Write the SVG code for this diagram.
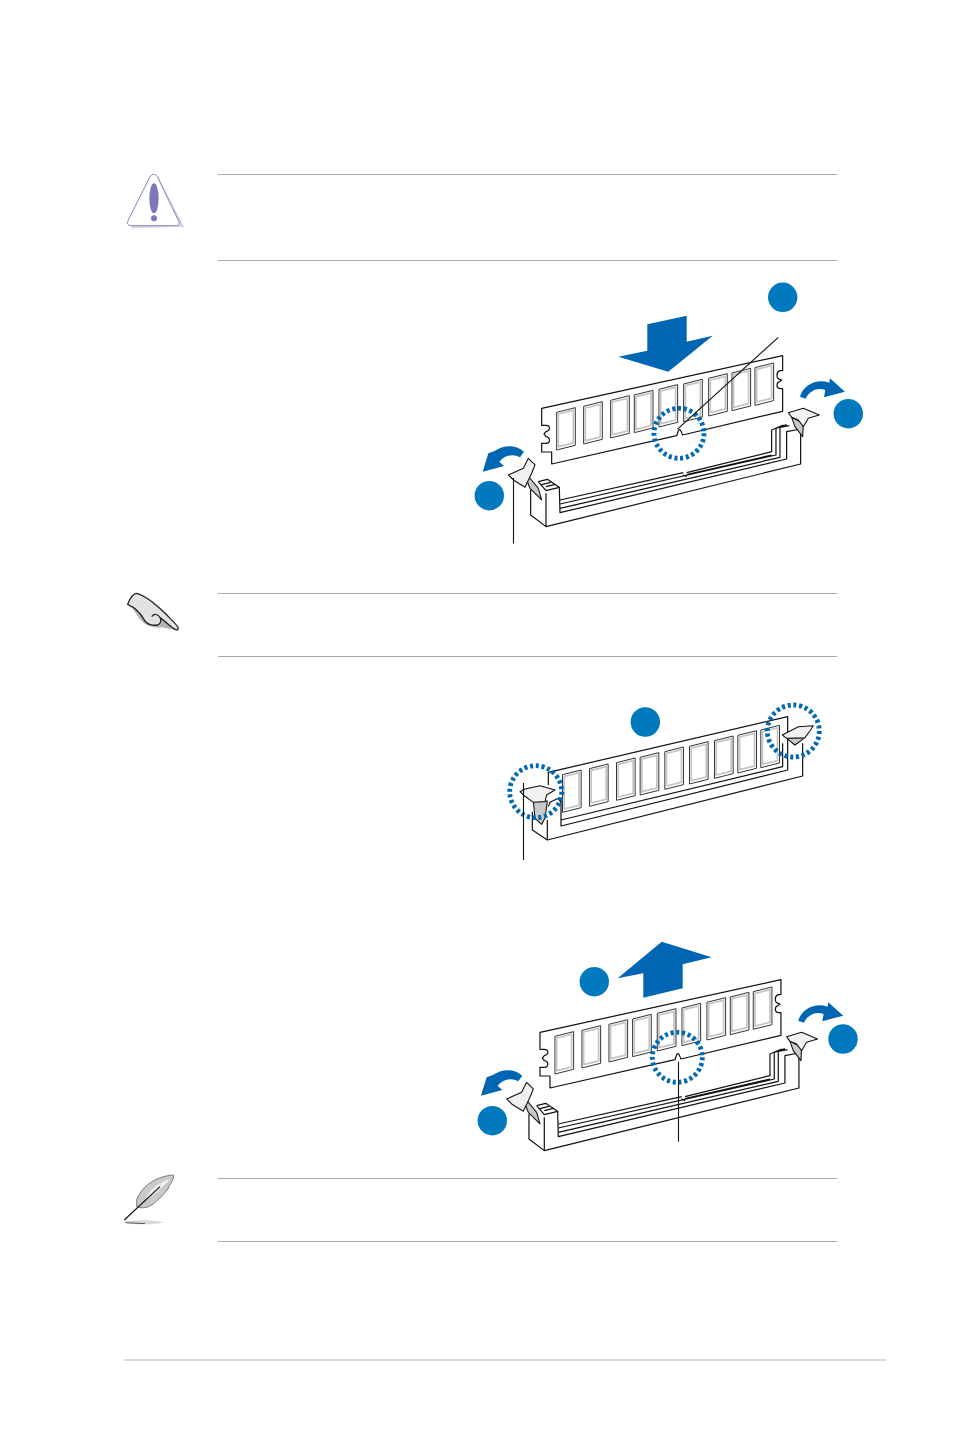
<svg xmlns="http://www.w3.org/2000/svg" xmlns:xlink="http://www.w3.org/1999/xlink" width="954" height="1437" viewBox="0 0 954 1437">
<style>
.rule{stroke:#a9a9a9;stroke-width:1;fill:none}
.foot{stroke:#cfcfcf;stroke-width:1.6;fill:none}
.ln{fill:none;stroke:#111;stroke-width:3.6;stroke-linejoin:round}
.fill{fill:#fff;stroke:none}
.body{fill:#fff;stroke:#111;stroke-width:3.6;stroke-linejoin:round}
.win{fill:#fff;stroke:#333;stroke-width:3}
.wini{fill:none;stroke:#c4c4c4;stroke-width:5}
.lev{fill:#f1f1f1;stroke:#111;stroke-width:3.2;stroke-linejoin:round}
.levd{fill:#c9c9c9;stroke:#111;stroke-width:3.2;stroke-linejoin:round}
.arrow{fill:#0066b3}
.badge{fill:#0079bf}
.dots{fill:none;stroke:#0069b4;stroke-width:4.8;stroke-dasharray:3.1 2.7}
.lead{fill:none;stroke:#111;stroke-width:1.1}
</style>
<defs>
<filter id="soft" x="-10%" y="-10%" width="120%" height="120%"><feGaussianBlur stdDeviation="1.2"/></filter>
<g id="w"><polygon class="win" points="0,14 56,0 56,113 0,127"/><polygon class="wini" points="5,19 50,8 50,106 5,117"/></g>
<g id="windows">
<use href="#w" x="260" y="383"/><use href="#w" x="341" y="365"/><use href="#w" x="422" y="347"/><use href="#w" x="493" y="331"/><use href="#w" x="567" y="314"/><use href="#w" x="641" y="298"/><use href="#w" x="716" y="281"/><use href="#w" x="786" y="265"/><use href="#w" x="855" y="249"/>
</g>
<g id="assembly">
<path class="fill" d="M182,640 L205,605 L232,598 L268,622 L270,660 L905,512 L905,450 L945,435 L992,450 L992,552 L228,740 L182,705 Z"/>
<path class="ln" d="M182,630 L182,705 L228,740 L992,552 L992,447 M228,640 L228,740 M268,622 L270,698 L950,537 L950,455 L992,447"/>
<path class="ln" d="M205,605 L232,598 L268,622 L228,632 L205,605 M215,614 L242,607 M228,620 L255,613"/>
<path class="ln" d="M270,660 L640,578 M650,578 L905,515 L905,450 L940,435 M270,672 L918,525 L918,445 L950,434 M270,685 L930,532 L930,442 L958,437 M640,584 L650,590 M650,584 L905,525"/>
<path class="body" d="M215,385 L938,227 L938,272 L930,272 C918,276 918,296 930,298 L935,300 L930,304 C918,308 918,324 930,326 L938,326 L938,394 L638,465 C634,455 632,448 628,449 C624,450 624,458 620,467 L245,552 L245,516 L215,516 L215,490 L228,490 C242,490 242,472 228,470 L222,462 L228,455 C242,452 242,436 228,436 L215,436 Z"/>
<use href="#windows"/>
<path class="levd" d="M172,585 L205,625 L215,660 L180,625 L170,600 Z"/>
<path class="lev" d="M115,585 L160,565 L175,535 L195,555 L185,580 L165,622 L130,600 Z"/>
<path class="levd" d="M965,412 L1000,430 L998,470 L975,440 Z"/>
<path class="lev" d="M955,398 L1000,385 L1048,405 L1015,415 L1000,440 L985,420 L965,412 Z"/>
<path class="arrow" d="M990,350 C1000,315 1040,295 1078,308 L1080,295 L1125,335 L1062,352 L1066,330 C1045,322 1020,330 1007,356 Z"/>
<path class="arrow" d="M162,515 C135,492 100,495 72,514 L55,520 L38,575 L102,558 L88,545 C105,525 130,520 150,532 Z"/>
</g>
</defs>

<g id="rules">
<line class="rule" x1="218" y1="174.5" x2="837" y2="174.5"/>
<line class="rule" x1="218" y1="260.5" x2="837" y2="260.5"/>
<line class="rule" x1="218" y1="593.5" x2="837" y2="593.5"/>
<line class="rule" x1="218" y1="656.5" x2="837" y2="656.5"/>
<line class="rule" x1="218" y1="1178.5" x2="837" y2="1178.5"/>
<line class="rule" x1="218" y1="1241.5" x2="837" y2="1241.5"/>
<line class="foot" x1="124" y1="1360" x2="886" y2="1360"/>
</g>

<g id="icon-warning" transform="translate(115 165) scale(.3333)">
<path d="M130,35 L207,185 L50,190 L50,178 Z" fill="#d4d2e8"/>
<path d="M105,35 Q116,20 127,35 L192,170 Q194,182 182,182 L48,182 Q32,180 40,165 Z" fill="#fff" stroke="#8a86c2" stroke-width="3"/>
<ellipse cx="117" cy="100" rx="14" ry="45" fill="#7d78b8"/>
<circle cx="117" cy="160" r="9" fill="#7d78b8"/>
</g>

<g id="icon-hand" transform="translate(115 585) scale(.3333)">
<path d="M50,65 C75,105 85,125 130,128 C150,125 175,135 192,138 L150,90 Z" fill="#b5b5b5" filter="url(#soft)"/>
<path d="M38,58 C45,40 55,25 65,25 C90,32 120,55 150,85 C170,105 188,120 190,130 C190,136 182,136 175,130 C160,118 145,105 135,98 C140,105 138,115 128,120 C115,122 95,120 88,105 C80,90 65,70 38,58 Z" fill="#e2e2e2" stroke="#222" stroke-width="4" stroke-linejoin="round"/>
<path d="M110,95 C118,84 130,88 135,98" fill="none" stroke="#222" stroke-width="3.5"/>
</g>

<g id="icon-feather" transform="translate(115 1165) scale(.3333)">
<ellipse cx="85" cy="172" rx="58" ry="6" fill="#d8d8d8" filter="url(#soft)"/>
<path d="M32,173 L90,176" stroke="#555" stroke-width="3" fill="none"/>
<path d="M65,105 C75,75 110,35 175,30 C178,45 165,55 160,70 C150,85 130,105 110,120 C95,130 75,130 65,125 Z" fill="#c9c9c9" stroke="#666" stroke-width="2.5"/>
<path d="M95,95 C110,65 140,50 165,42 C150,60 130,80 95,105 Z" fill="#eee"/>
<path d="M28,165 L135,65" stroke="#111" stroke-width="3.5" fill="none"/>
</g>

<g id="dimm-install">
<g id="install-assembly" transform="translate(470 280) scale(.3333)"><use href="#assembly"/></g>
<polygon id="install-arrow" class="arrow" points="647.3,324.3 686.7,315.7 686.7,341.7 712.7,335.7 668.3,371.7 618.3,356.7 647.3,350.7"/>
<circle id="install-dots" class="dots" cx="679" cy="433.3" r="25"/>
<circle id="badge-install-notch" class="badge" cx="782.7" cy="297.3" r="14.7"/>
<circle id="badge-install-right" class="badge" cx="848.3" cy="413.7" r="14.7"/>
<circle id="badge-install-left" class="badge" cx="489.3" cy="495.7" r="14.7"/>
</g>

<g id="dimm-seated">
<g id="seated-assembly" transform="translate(490 695) scale(.3333)">
<path class="fill" d="M127,325 L172,300 L175,232 L893,65 L893,150 L938,145 L938,243 L172,435 L127,405 Z"/>
<path class="ln" d="M127,350 L127,405 L172,435 L938,243 L938,145 M172,375 L172,435 M213,310 L213,393 L893,225 L893,150 M213,375 L878,215 L878,145"/>
<path class="ln" d="M175,270 L175,232 L893,65 L893,150"/>
<g transform="translate(-42.5 -158)"><use href="#windows"/></g>
<path class="ln" d="M175,335 L180,322 L205,310 L213,322"/>
<path class="levd" d="M130,318 L135,370 L155,388 L165,370 L172,318 Z"/>
<path class="lev" d="M90,290 L105,282 L150,272 L195,285 L170,300 L165,320 L130,322 L100,300 Z"/>
<path class="levd" d="M890,130 L945,128 L915,150 Z"/>
<path class="lev" d="M877,120 L925,95 L970,92 L962,105 L945,128 L890,130 Z"/>
</g>
<circle id="seated-dots-left" class="dots" cx="535.7" cy="791.7" r="26"/>
<circle id="seated-dots-right" class="dots" cx="793.3" cy="731" r="26"/>
<circle id="badge-seated" class="badge" cx="645.3" cy="722" r="14.7"/>
</g>

<g id="dimm-remove">
<g id="remove-assembly" transform="translate(468.3 904) scale(.3333)"><use href="#assembly"/></g>
<polygon id="remove-arrow" class="arrow" points="617.7,978.3 661.7,941.7 711.7,957.3 682.7,964.3 682.7,988.3 643.3,997.7 643.3,973.3"/>
<circle id="remove-dots" class="dots" cx="677.3" cy="1057.3" r="25"/>
<circle id="badge-remove-up" class="badge" cx="594.3" cy="981.7" r="14.7"/>
<circle id="badge-remove-right" class="badge" cx="843" cy="1039" r="14.7"/>
<circle id="badge-remove-left" class="badge" cx="492.3" cy="1120.7" r="14.7"/>
</g>

<g id="connectors">
<line class="lead" x1="778.3" y1="337.3" x2="677.3" y2="429.3"/>
<line class="lead" x1="513.5" y1="478" x2="513.5" y2="543.5"/>
<line class="lead" x1="523.5" y1="783" x2="523.5" y2="860"/>
<line class="lead" x1="678.5" y1="1061.7" x2="678.5" y2="1141.7"/>
</g>
</svg>
